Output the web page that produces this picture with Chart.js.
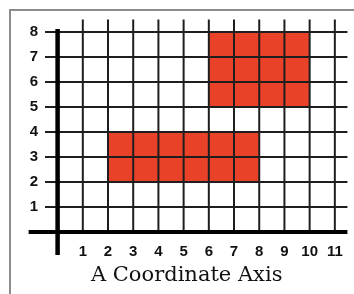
<!DOCTYPE html>
<html><head><meta charset="utf-8">
<script src="https://cdn.jsdelivr.net/npm/chart.js@4.4.1/dist/chart.umd.min.js"></script>
<style>
html,body{margin:0;padding:0;background:#fff;}
#wrap{position:relative;width:354px;height:294px;overflow:hidden;}
#frame{position:absolute;left:9px;top:9px;width:400px;height:400px;border:2px solid #8c8c8c;pointer-events:none;}
canvas{position:absolute;left:0;top:0;}
</style></head><body>
<div id="wrap"><canvas id="c" width="354" height="294"></canvas><div id="frame"></div></div>
<script>
// categories / tick labels
const xTicks = [1, 2, 3, 4, 5, 6, 7, 8, 9, 10, 11];
const yTicks = [1, 2, 3, 4, 5, 6, 7, 8];
// shaded rectangles: [x from, x to] and [y from, y to]
const rectXs = [[2, 8], [6, 10]];
const rectYs = [[2, 4], [5, 8]];
const titleText = 'A Coordinate Axis';

const RED = '#EA4129';
const tickFont = {family: '"Liberation Sans", Arial, sans-serif', size: 15, weight: 'bold'};

const datasets = rectXs.map((xs, i) => ({
  data: [{x: xs[0], y: rectYs[i][1]}, {x: xs[1], y: rectYs[i][1]}],
  fill: {value: rectYs[i][0]},
  backgroundColor: RED,
  borderWidth: 0,
  pointRadius: 0,
  tension: 0
}));

const gridPlugin = {
  id: 'coordGrid',
  afterDatasetsDraw(chart) {
    const ctx = chart.ctx;
    const xs = chart.scales.x, ys = chart.scales.y;
    const line = (x1, y1, x2, y2, w, c) => {
      ctx.beginPath();
      ctx.lineWidth = w;
      ctx.strokeStyle = c;
      ctx.moveTo(xs.getPixelForValue(x1), ys.getPixelForValue(y1));
      ctx.lineTo(xs.getPixelForValue(x2), ys.getPixelForValue(y2));
      ctx.stroke();
    };
    ctx.save();
    ctx.lineCap = 'butt';
    xTicks.forEach(v => line(v, 0, v, ys.max, 2, '#1e1e1e'));
    yTicks.forEach(v => line(xs.min, v, xs.max, v, 2, '#1e1e1e'));
    // axes
    line(-1.15, 0, xs.max, 0, 4, '#000');
    line(0, 8.12, 0, -0.92, 4.5, '#000');
    ctx.restore();
  }
};

new Chart(document.getElementById('c'), {
  type: 'line',
  data: {datasets},
  options: {
    responsive: false,
    animation: false,
    devicePixelRatio: 1,
    layout: {padding: {left: 25, right: 5.6, top: 19.5, bottom: 0}},
    plugins: {
      legend: {display: false},
      tooltip: {enabled: false},
      title: {
        display: true,
        position: 'bottom',
        text: titleText,
        color: '#111',
        font: {family: '"DejaVu Serif", serif', size: 21, weight: 'normal'},
        padding: {top: 0, bottom: 5.6}
      }
    },
    scales: {
      x: {
        type: 'linear',
        min: -0.5,
        max: 11.5,
        afterBuildTicks: s => { s.ticks = xTicks.map(v => ({value: v})); },
        afterFit: s => { s.height = 31.2; },
        grid: {display: false, drawTicks: false},
        border: {display: false},
        ticks: {color: '#111', font: tickFont, padding: 11, autoSkip: false, maxRotation: 0}
      },
      y: {
        type: 'linear',
        min: 0,
        max: 8.5,
        afterBuildTicks: s => { s.ticks = yTicks.map(v => ({value: v})); },
        afterFit: s => { s.width = 20; },
        grid: {display: false, drawTicks: false},
        border: {display: false},
        ticks: {color: '#111', font: tickFont, padding: 7, autoSkip: false}
      }
    }
  },
  plugins: [gridPlugin]
});
</script>
</body></html>
